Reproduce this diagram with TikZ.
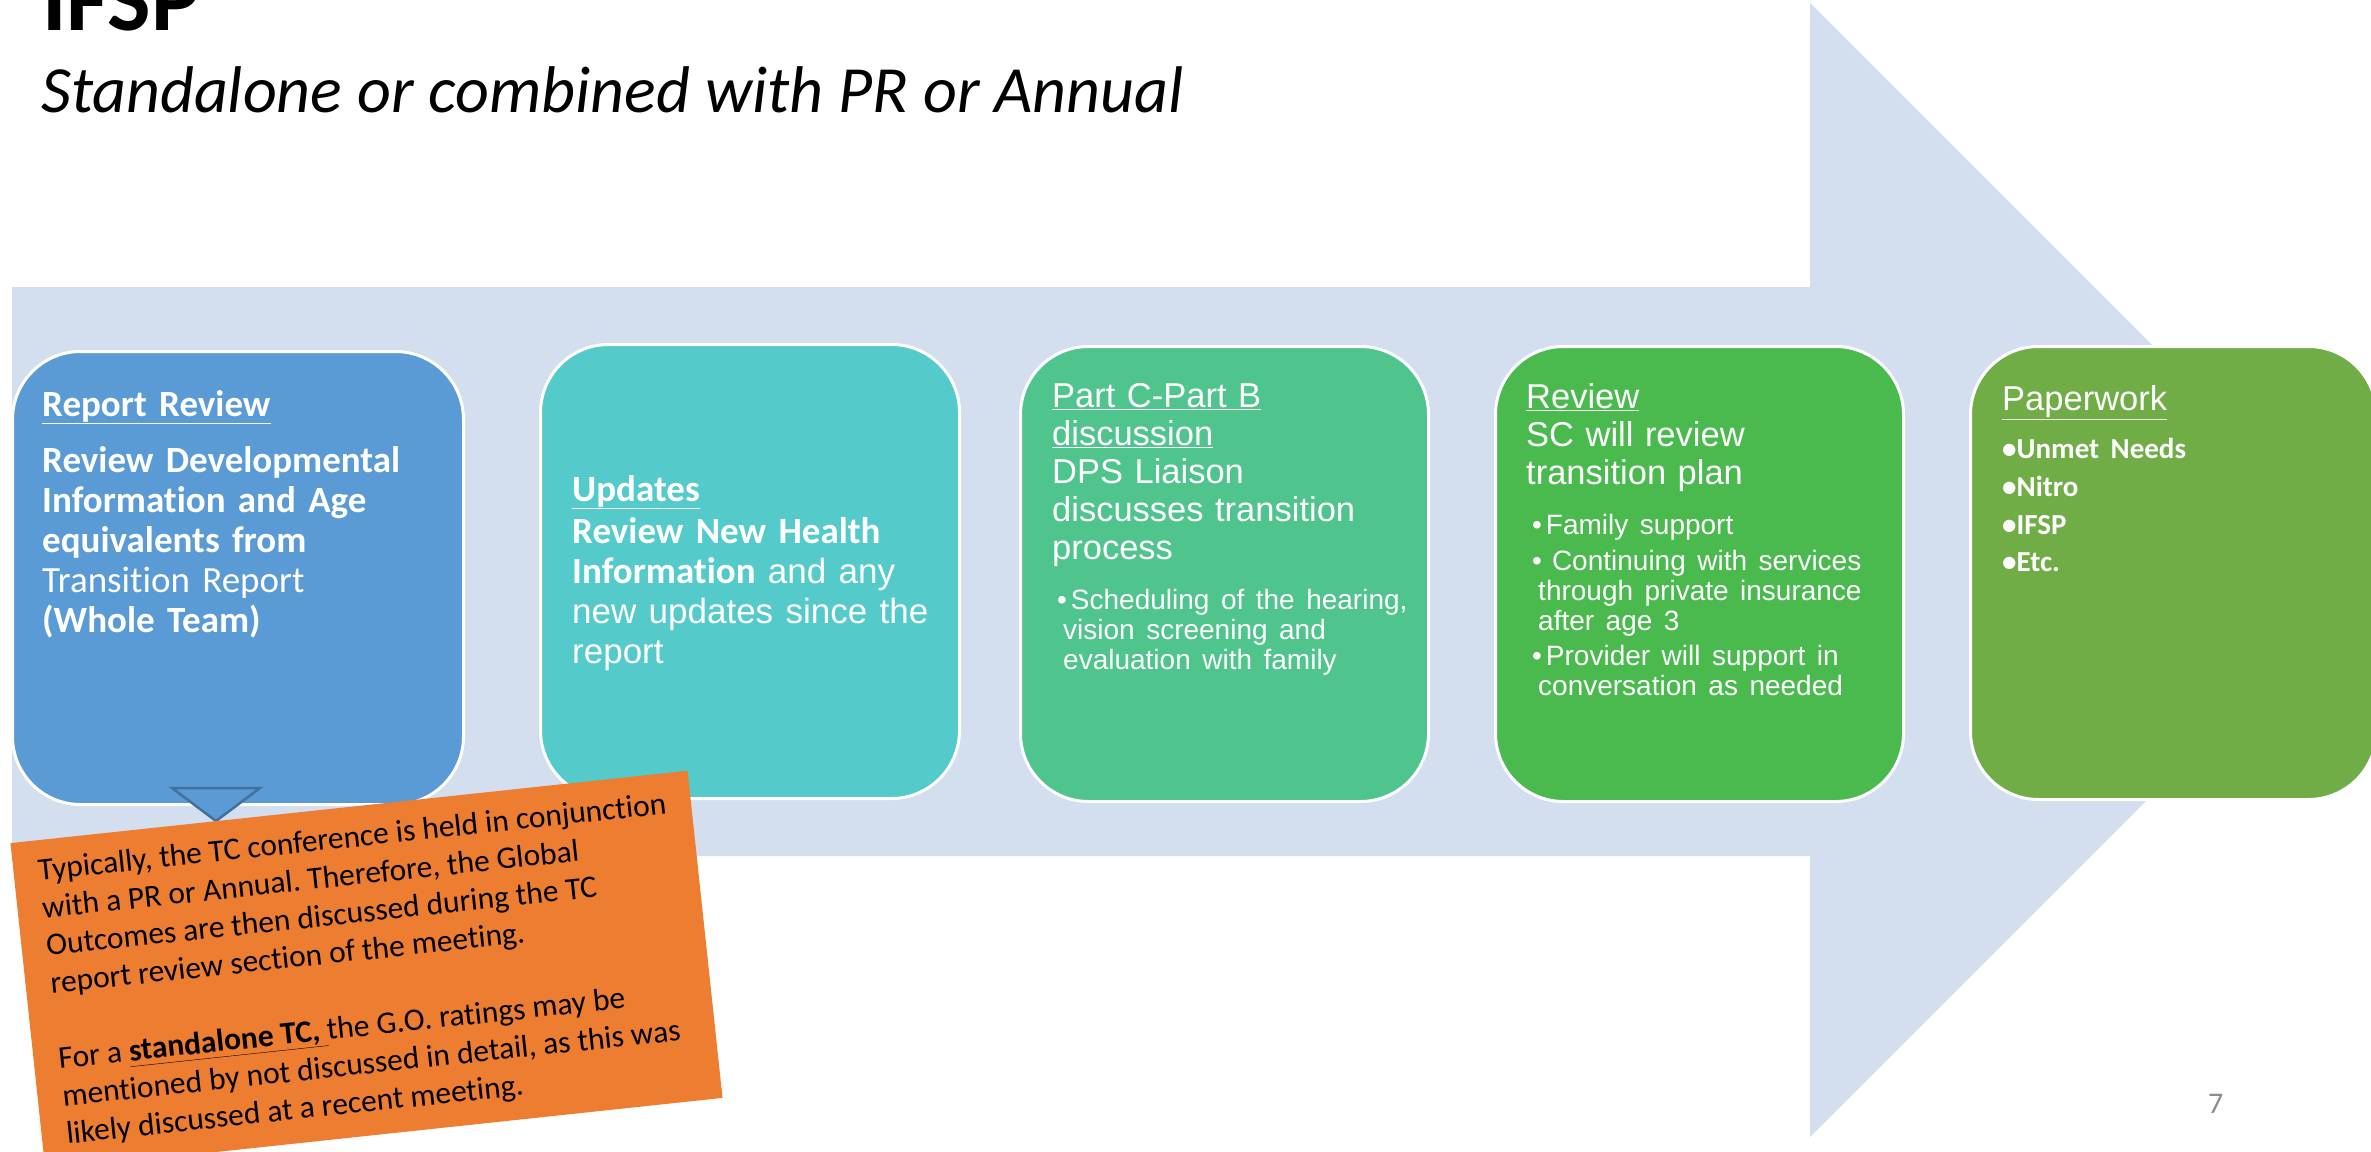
\documentclass[tikz,border=0pt]{standalone}
\usepackage{fontspec}
\setmainfont{Carlito}[Ligatures=NoCommon]
\newfontfamily\liber{Liberation Sans}
\usetikzlibrary{positioning}
\definecolor{arrowbg}{HTML}{D3DEEF}
\definecolor{revblue}{HTML}{5B9BD5}
\definecolor{revline}{HTML}{41719C}
\definecolor{updteal}{HTML}{55CACA}
\definecolor{partgreen}{HTML}{50C48D}
\definecolor{scgreen}{HTML}{4ABA4F}
\definecolor{papgreen}{HTML}{70AD47}
\definecolor{noteorange}{HTML}{ED7D31}
\definecolor{pagegray}{HTML}{8C8C8C}
\tikzset{
  stepbox/.style={draw=white, line width=3pt, rounded corners=68pt, anchor=north west},
  steptext/.style={text=white, align=left, inner sep=0pt},
  headfont/.style={font=\liber\fontsize{34.5}{38}\selectfont},
}

\begin{document}
\begin{tikzpicture}[x=1pt,y=1pt]
\useasboundingbox (0,0) rectangle (2371,-1151);
% big arrow behind the steps
\fill[arrowbg] (12,-287) -- (1810,-287) -- (1810,-3) -- (2377,-570) -- (1810,-1137) -- (1810,-856) -- (12,-856) -- cycle;

\node[anchor=base west, inner sep=0pt, font=\bfseries\fontsize{92}{100}\selectfont] (title) at (42,-30) {IFSP};
\node[anchor=base west, inner sep=0pt, font=\itshape\fontsize{66}{72}\selectfont] (subtitle) at (41,-112) {Standalone or combined with PR or Annual};

% step 1
\node[stepbox, fill=revblue, minimum width=451pt, minimum height=453pt] (rev) at (11,-350) {};
\node[steptext, text width=410pt, font=\bfseries\fontsize{37}{40}\selectfont, below right=40pt and 31pt of rev.north west] (rev-txt) {\underline{Report Review}\\[16pt]
Review Developmental\\ Information and Age\\ equivalents from\\ {\mdseries Transition Report}\\ (Whole Team)};

% step 2
\node[stepbox, fill=updteal, minimum width=419pt, minimum height=454pt] (upd) at (539,-343) {};
\node[steptext, text width=390pt, font=\bfseries\fontsize{37}{40}\selectfont, below right=132pt and 33pt of upd.north west] (upd-txt) {\underline{Updates}\\[2pt]
Review New Health\\ Information {\liber\mdseries\fontsize{35}{40}\selectfont and any}\\ {\liber\mdseries\fontsize{35}{40}\selectfont new updates since the}\\ {\liber\mdseries\fontsize{35}{40}\selectfont report}};

% step 3
\node[stepbox, fill=partgreen, minimum width=408pt, minimum height=455pt] (partc) at (1019,-345) {};
\node[steptext, text width=375pt, headfont, below right=38pt and 33pt of partc.north west] (partc-txt) {\underline{Part C-Part B}\\ \underline{discussion}\\ DPS Liaison\\ discusses transition\\ process\par\vspace{20pt}
{\fontsize{28}{30}\selectfont\hspace*{5pt}\textbullet\hspace{4pt}Scheduling of the hearing,\\ \hspace*{11pt}vision screening and\\ \hspace*{11pt}evaluation with family\par}};

% step 4
\node[stepbox, fill=scgreen, minimum width=408pt, minimum height=455pt] (screv) at (1494,-345) {};
\node[steptext, text width=375pt, headfont, below right=38pt and 32pt of screv.north west] (screv-txt) {\underline{Review}\\ SC will review\\ transition plan\par\vspace{20pt}
{\fontsize{28}{30}\selectfont\hspace*{6pt}\textbullet\hspace{4pt}Family support\\[6pt] \hspace*{6pt}\textbullet\hspace{10pt}Continuing with services\\ \hspace*{12pt}through private insurance\\ \hspace*{12pt}after age 3\\[5pt] \hspace*{6pt}\textbullet\hspace{4pt}Provider will support in\\ \hspace*{12pt}conversation as needed\par}};

% step 5
\node[stepbox, fill=papgreen, minimum width=406pt, minimum height=453pt] (paper) at (1969,-345) {};
\node[steptext, text width=330pt, headfont, below right=40pt and 33pt of paper.north west] (paper-txt) {\underline{Paperwork}\par\vspace{11pt}
{\normalfont\bfseries\fontsize{29}{37.6}\selectfont\textbullet Unmet Needs\\ \textbullet Nitro\\ \textbullet IFSP\\ \textbullet Etc.\par}};

% pointer and note
\filldraw[fill=revblue, draw=revline, line width=2.5pt] (172,-788) -- (260,-788) -- (216,-821) -- cycle;
\node[fill=noteorange, rotate=6.1, minimum width=681pt, minimum height=329pt, inner sep=0pt, align=left, font=\frenchspacing\fontsize{31.5}{37.8}\selectfont] (note) at (366.5,-970.5) {Typically, the TC conference is held in conjunction\\ with a PR or Annual. Therefore, the Global\\ Outcomes are then discussed during the TC\\ report review section of the meeting.\\[37.8pt]
For a \underline{\textbf{standalone TC,}\ }the G.O. ratings may be\\ mentioned by not discussed in detail, as this was\\ likely discussed at a recent meeting.};

\node[anchor=base west, inner sep=0pt, text=pagegray, font=\fontsize{30}{36}\selectfont] (pagenum) at (2208,-1113) {7};
\end{tikzpicture}
\end{document}
